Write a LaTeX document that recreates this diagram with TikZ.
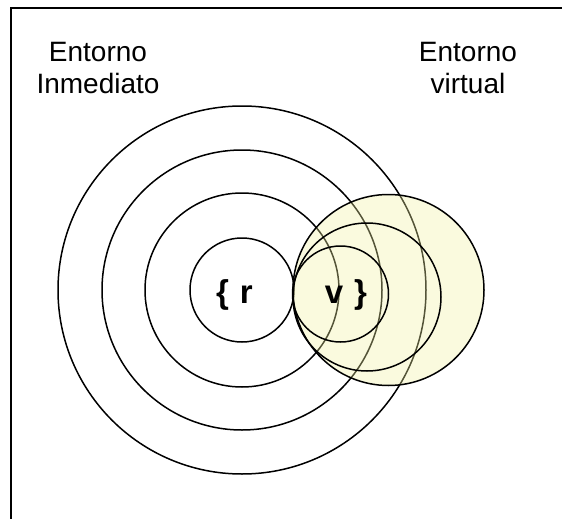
\documentclass[tikz,border=0pt]{standalone}
\usepackage{fontspec}
\setmainfont{Liberation Sans}
\usepackage{xcolor}
\usetikzlibrary{shapes.geometric}
\definecolor{vyellow}{RGB}{241,241,161}
\tikzstyle{ring} = [circle, draw=black, line width=1.5pt, inner sep=0pt]
\tikzstyle{vring} = [circle, draw=black, line width=1.5pt, inner sep=0pt, fill=vyellow, fill opacity=0.35]
\tikzstyle{heading} = [align=center, font=\fontsize{28}{32}\selectfont]
\tikzstyle{tag} = [inner sep=0pt, font=\fontsize{33}{36}\selectfont\bfseries]
\tikzstyle{frame} = [line width=2pt]

\begin{document}
\begin{tikzpicture}[x=1pt, y=-1pt]
\useasboundingbox (0,0) rectangle (562,519);
\draw [frame] (11,519) -- (11,8) -- (562,8);

% immediate surroundings
\node (ring4) [ring, minimum size=368pt] at (242,290) {};
\node (ring3) [ring, minimum size=280pt] at (242,290) {};
\node (ring2) [ring, minimum size=194pt] at (242,290) {};
\node (ring1) [ring, minimum size=104pt] at (242,290) {};

% virtual surroundings
\node (vring3) [vring, minimum size=191pt] at (388.5,290) {};
\node (vring2) [ring, minimum size=148pt] at (367,297) {};
\node (vring1) [ring, minimum size=96pt] at (340.5,294) {};

\node (real) [tag] at (234.5,295) {\{\,\,r};
\node (virt) [tag] at (346,295) {v\,\,\}};

\node (inmediato) [heading] at (98,68) {Entorno\\Inmediato};
\node (virtual) [heading] at (468,68) {Entorno\\virtual};
\end{tikzpicture}
\end{document}
